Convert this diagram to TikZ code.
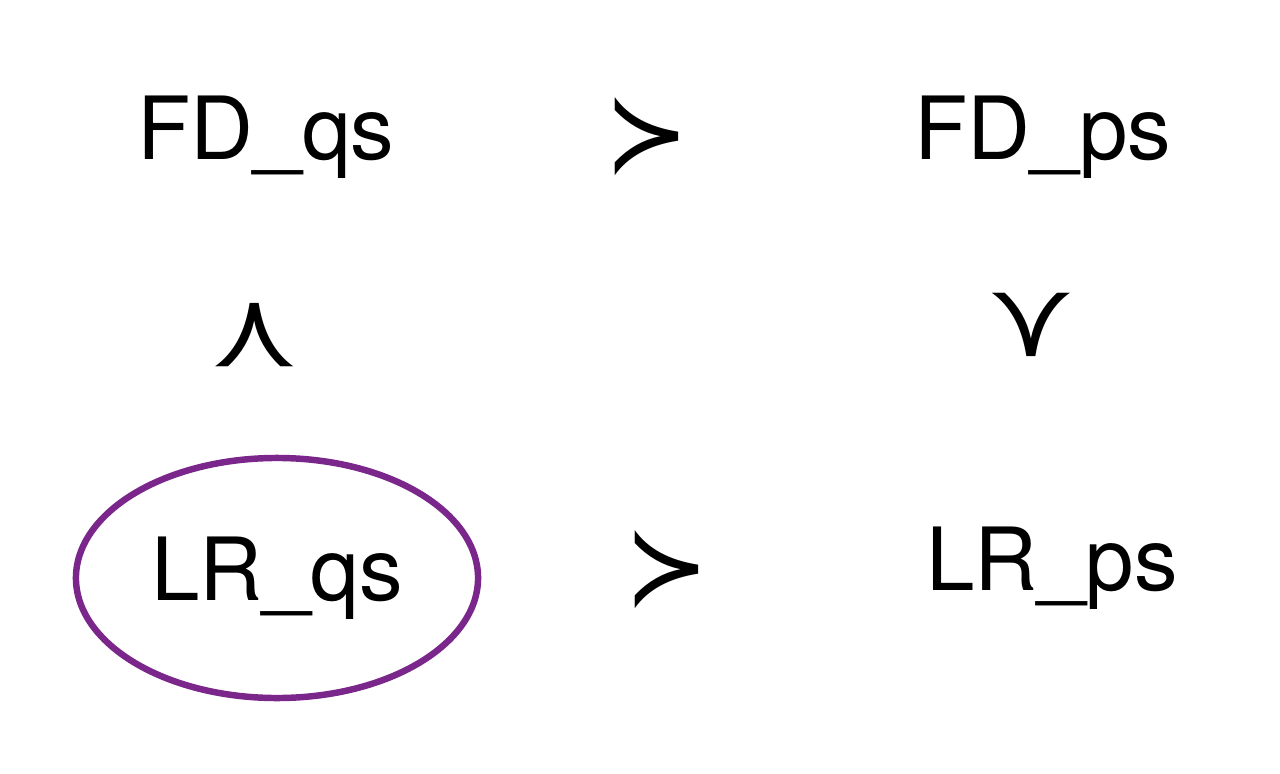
\documentclass[tikz,border=0pt]{standalone}
\usepackage{fontspec}
\setmainfont{TeX Gyre Heros}
\newfontfamily\symfont{DejaVu Sans}
\usetikzlibrary{shapes.geometric}
\definecolor{plum}{RGB}{122,38,138}
\newcommand{\bigsucc}{\scalebox{1}[1.1]{≻}}
\tikzset{
  term/.style={font=\fontsize{62}{74}\selectfont, inner sep=0pt},
  rel/.style={font=\symfont\fontsize{72}{80}\selectfont, inner sep=0pt},
}
\begin{document}
\begin{tikzpicture}[x=0.025cm, y=-0.025cm]
  \useasboundingbox[fill=white] (0,0) rectangle (1280,774);

  % Define nodes
  \node[term, anchor=base] (fdqs) at (266,160) {FD\_qs};
  \node[term, anchor=base] (fdps) at (1043,160) {FD\_ps};
  \node[term, ellipse, draw=plum, line width=4.6pt, minimum width=10.05cm, minimum height=6cm] (lrqs) at (277,578) {LR\_qs};
  \node[term, anchor=base] (lrps) at (1052,590) {LR\_ps};

  % Relations between them
  \node[rel] (top) at (647,137) {\bigsucc};
  \node[rel] (bot) at (667,570) {\bigsucc};
  \node[rel, rotate=90] (left) at (255,335) {\bigsucc};
  \node[rel, rotate=-90] (right) at (1031,325) {\bigsucc};

\end{tikzpicture}
\end{document}
